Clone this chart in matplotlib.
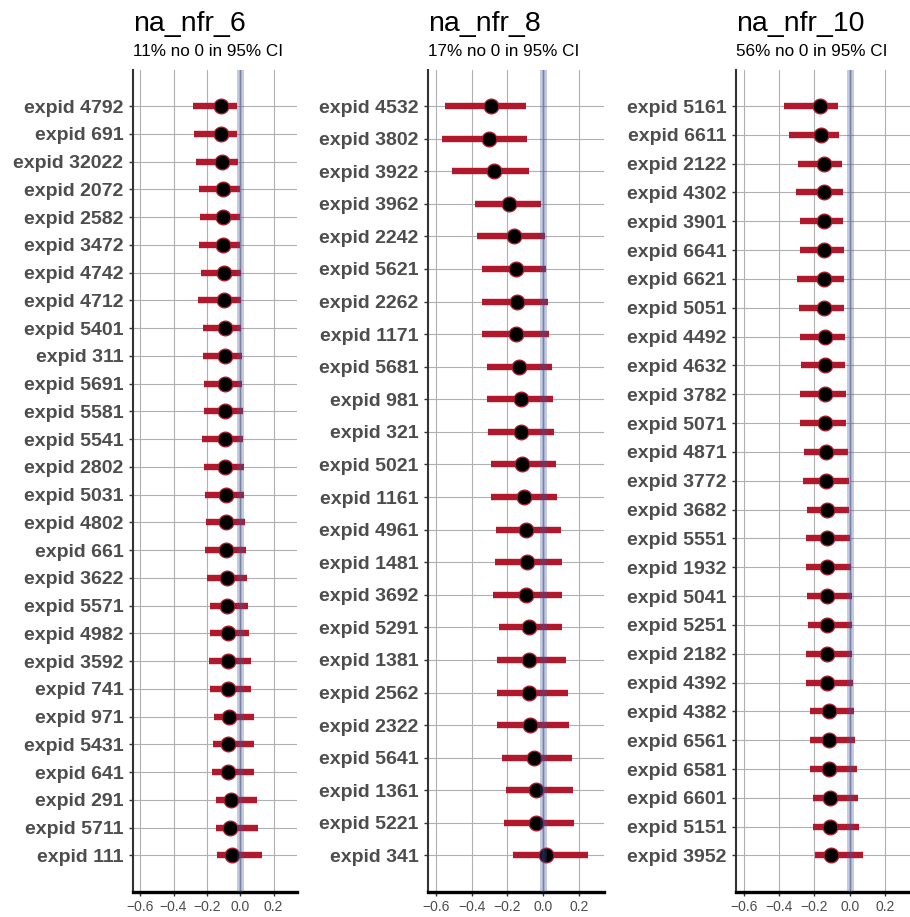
import matplotlib
matplotlib.use('Agg')
import matplotlib.pyplot as plt
import numpy as np

plt.rcParams['font.family'] = ['Liberation Sans', 'DejaVu Sans']

titles = ['na_nfr_6', 'na_nfr_8', 'na_nfr_10']
subtitles = ['11% no 0 in 95% CI', '17% no 0 in 95% CI', '56% no 0 in 95% CI']

labels_6 = ['4792', '691', '32022', '2072', '2582', '3472', '4742', '4712', '5401', '311',
            '5691', '5581', '5541', '2802', '5031', '4802', '661', '3622', '5571', '4982',
            '3592', '741', '971', '5431', '641', '291', '5711', '111']
mean_6 = [-0.116, -0.114, -0.110, -0.106, -0.102, -0.102, -0.098, -0.100, -0.094, -0.094,
          -0.094, -0.090, -0.090, -0.090, -0.086, -0.086, -0.086, -0.082, -0.078, -0.076,
          -0.076, -0.076, -0.070, -0.072, -0.074, -0.058, -0.064, -0.050]
low_6 = [-0.286, -0.278, -0.264, -0.248, -0.240, -0.246, -0.234, -0.254, -0.224, -0.224,
         -0.220, -0.216, -0.232, -0.216, -0.210, -0.206, -0.210, -0.198, -0.182, -0.180,
         -0.186, -0.180, -0.158, -0.164, -0.168, -0.148, -0.148, -0.140]
high_6 = [-0.020, -0.018, -0.014, 0.001, 0.001, 0.001, 0.002, 0.004, 0.004, 0.010,
          0.010, 0.016, 0.016, 0.022, 0.024, 0.028, 0.032, 0.038, 0.048, 0.054,
          0.064, 0.066, 0.080, 0.082, 0.084, 0.102, 0.106, 0.128]

labels_8 = ['4532', '3802', '3922', '3962', '2242', '5621', '2262', '1171', '5681', '981',
            '321', '5021', '1161', '4961', '1481', '3692', '5291', '1381', '2562', '2322',
            '5641', '1361', '5221', '341']
mean_8 = [-0.295, -0.305, -0.273, -0.189, -0.166, -0.153, -0.149, -0.151, -0.136, -0.123,
          -0.127, -0.116, -0.108, -0.095, -0.093, -0.097, -0.080, -0.080, -0.080, -0.076,
          -0.054, -0.041, -0.043, 0.017]
low_8 = [-0.551, -0.568, -0.508, -0.383, -0.372, -0.344, -0.340, -0.344, -0.314, -0.312,
         -0.310, -0.292, -0.292, -0.264, -0.269, -0.280, -0.247, -0.256, -0.260, -0.261,
         -0.228, -0.208, -0.219, -0.168]
high_8 = [-0.099, -0.091, -0.082, -0.013, 0.009, 0.013, 0.028, 0.030, 0.047, 0.054,
          0.058, 0.073, 0.079, 0.098, 0.103, 0.107, 0.107, 0.126, 0.137, 0.142,
          0.159, 0.167, 0.170, 0.251]

labels_10 = ['5161', '6611', '2122', '4302', '3901', '6641', '6621', '5051', '4492', '4632',
             '3782', '5071', '4871', '3772', '3682', '5551', '1932', '5041', '5251', '2182',
             '4392', '4382', '6561', '6581', '6601', '5151', '3952']
mean_10 = [-0.168, -0.163, -0.148, -0.148, -0.148, -0.144, -0.146, -0.144, -0.142, -0.140,
           -0.142, -0.138, -0.137, -0.133, -0.131, -0.129, -0.129, -0.127, -0.127, -0.127,
           -0.127, -0.118, -0.120, -0.116, -0.114, -0.114, -0.105]
low_10 = [-0.372, -0.346, -0.294, -0.305, -0.284, -0.279, -0.299, -0.288, -0.280, -0.273,
          -0.283, -0.279, -0.260, -0.264, -0.243, -0.249, -0.245, -0.243, -0.234, -0.249,
          -0.245, -0.224, -0.224, -0.223, -0.210, -0.208, -0.198]
high_10 = [-0.067, -0.062, -0.043, -0.041, -0.036, -0.032, -0.032, -0.032, -0.026, -0.026,
           -0.022, -0.021, -0.013, -0.004, -0.002, 0.003, 0.007, 0.011, 0.013, 0.013,
           0.020, 0.024, 0.028, 0.043, 0.047, 0.050, 0.073]

x_ticks = [-0.6, -0.4, -0.2, 0.0, 0.2]

panels = [
    (labels_6, mean_6, low_6, high_6),
    (labels_8, mean_8, low_8, high_8),
    (labels_10, mean_10, low_10, high_10),
]

W, H = 910, 917
fig = plt.figure(figsize=(W / 100, H / 100), dpi=100)

# axes boxes in pixels: (left, right)
boxes = [(133, 297), (428.3, 604), (736, 910)]
top_px, bot_px = 70, 891.5
row_span_px = 749.0
pad_px = 36.0

red = '#b2182b'
band = '#3e5298'

for (labels, mean, low, high), (l, r), title, sub in zip(panels, boxes, titles, subtitles):
    n = len(labels)
    ax = fig.add_axes([l / W, 1 - bot_px / H, (r - l) / W, (bot_px - top_px) / H])
    y = np.arange(n)
    pad = pad_px * (n - 1) / row_span_px
    ax.set_ylim(n - 1 + pad, -pad)
    ax.set_xlim(-0.643, 0.34)
    ax.set_axisbelow(True)
    ax.grid(True, color='#b0b0b0', lw=0.8)

    ax.hlines(y, low, high, color=red, lw=4.6, zorder=2)
    ax.plot(mean, y, 'o', ms=10.6, mfc='black', mec=red, mew=0.9, zorder=3, ls='none')
    ax.axvline(0, color=band, alpha=0.3, lw=5.0, zorder=4)
    ax.axvline(0, color=band, alpha=0.25, lw=1.8, zorder=4)

    ax.set_yticks(y)
    ax.set_yticklabels(['expid ' + s for s in labels])
    ax.set_xticks(x_ticks)
    ax.set_xticklabels([f'{v:.1f}'.replace('-', '\u2212') for v in x_ticks])

    for s in ['top', 'right']:
        ax.spines[s].set_visible(False)
    ax.spines['left'].set_color('#333333')
    ax.spines['left'].set_linewidth(1.5)
    ax.spines['bottom'].set_color('black')
    ax.spines['bottom'].set_linewidth(2.4)

    ax.tick_params(axis='y', length=3, width=1, color='#333333', pad=4,
                   labelsize=14, labelcolor='#4d4d4d')
    for t in ax.get_yticklabels():
        t.set_fontweight('bold')
    ax.tick_params(axis='x', length=3, width=1, color='#333333', pad=3,
                   labelsize=10, labelcolor='#4d4d4d')

    fig.text(l / W, 1 - 31 / H, title, fontsize=20.5, ha='left', va='baseline', color='black')
    fig.text(l / W, 1 - 56.5 / H, sub, fontsize=12.3, ha='left', va='baseline', color='black')

fig.savefig('out.png', dpi=100)
